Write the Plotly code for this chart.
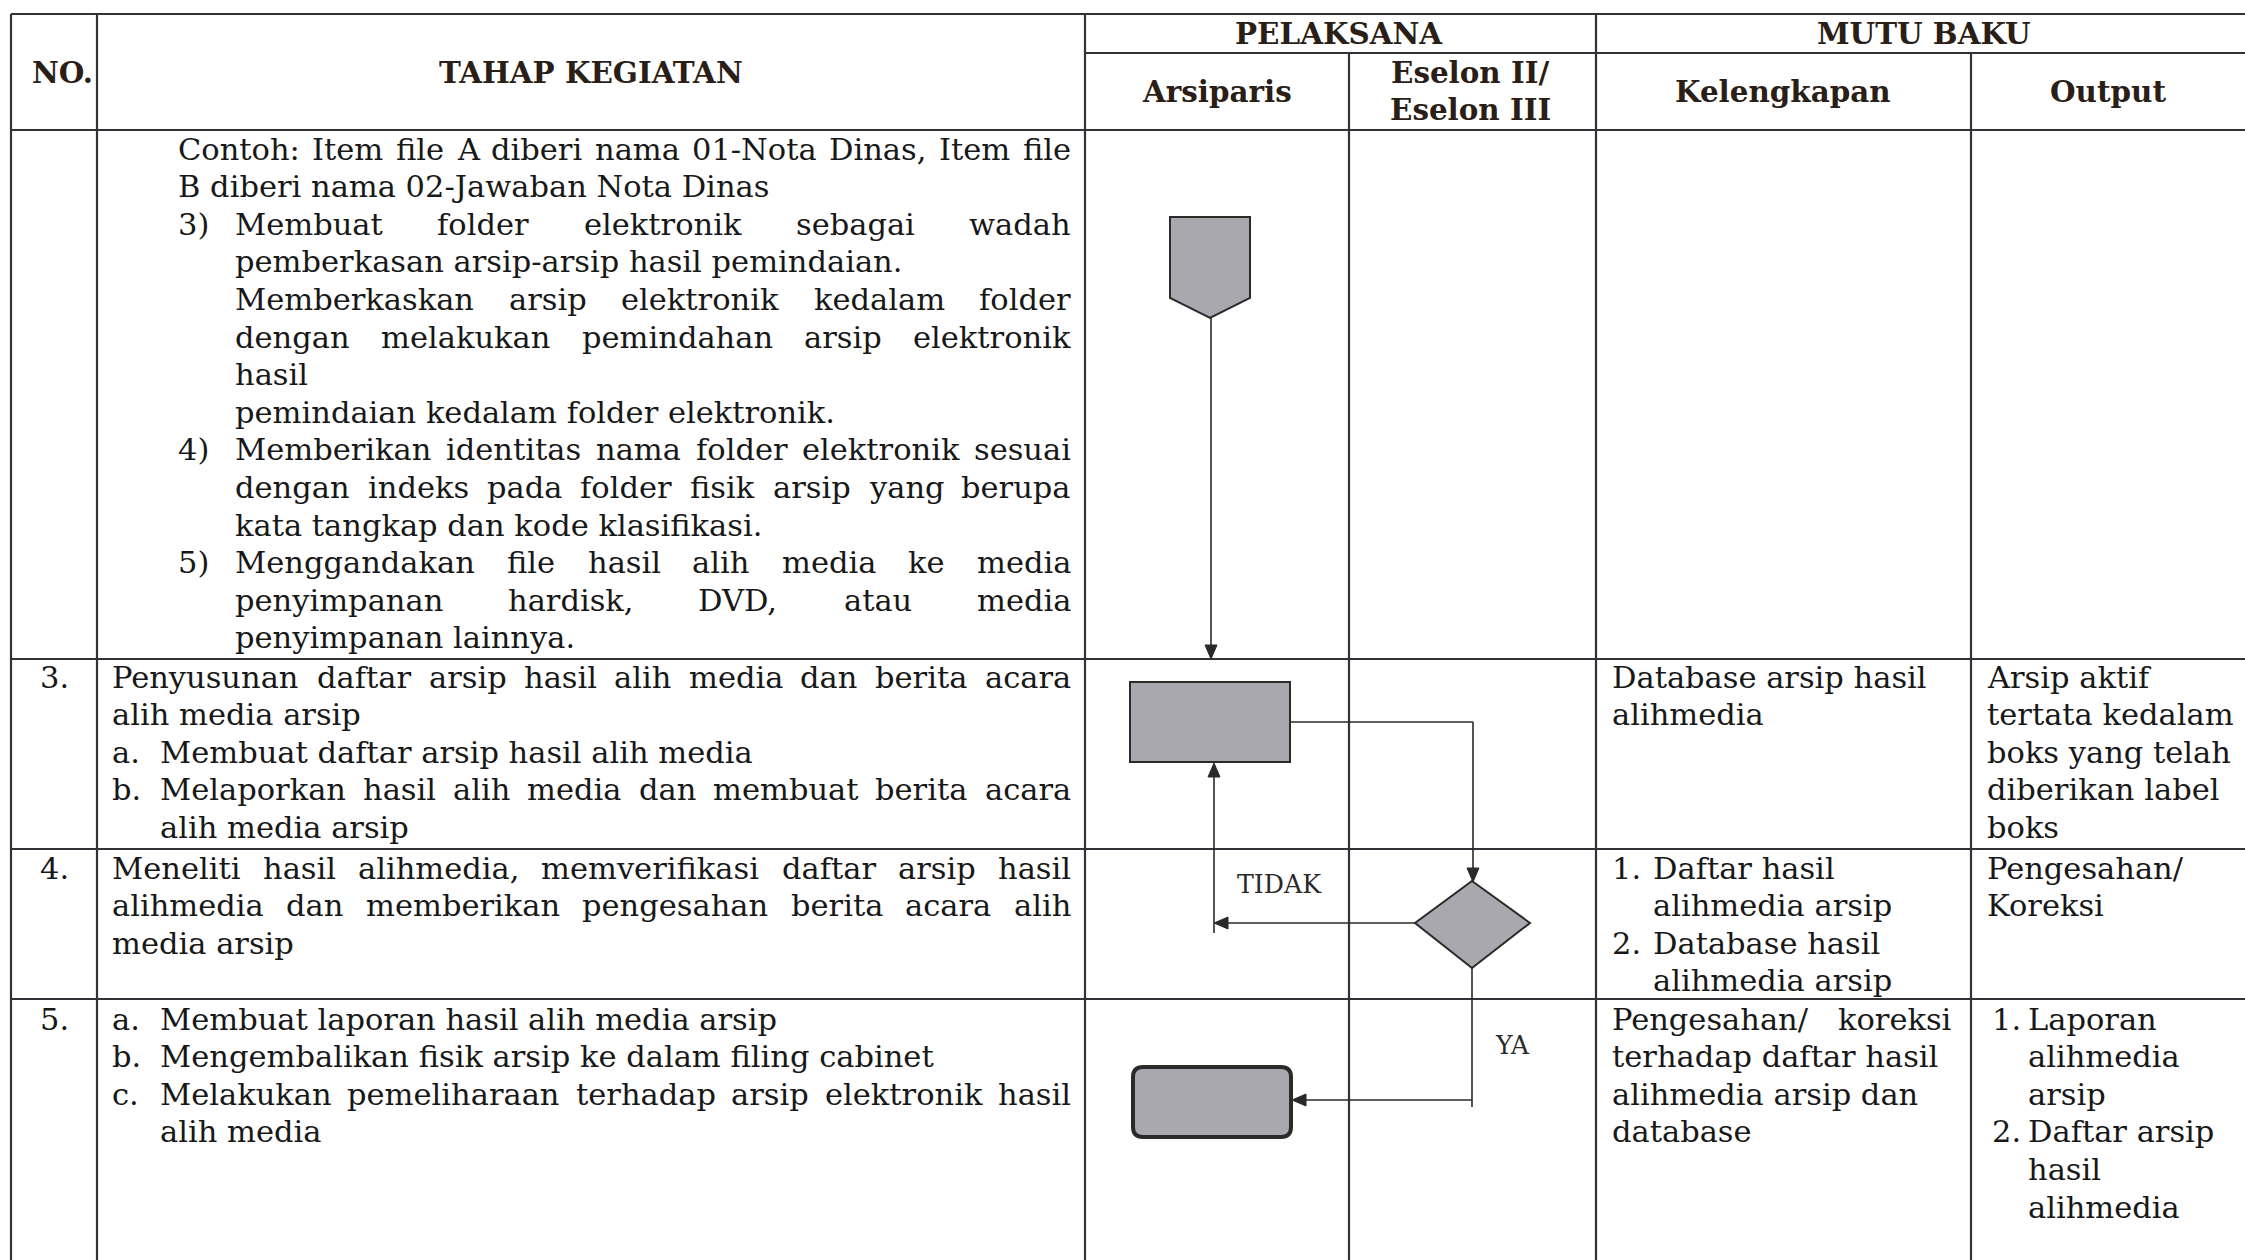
import glob
import struct
import plotly.graph_objects as go

# ---------------------------------------------------------------- data (text content)
HEAD_TOP = ["NO.", "TAHAP KEGIATAN", "PELAKSANA", "MUTU BAKU"]
HEAD_SUB = ["Arsiparis", "Eselon II/", "Eselon III", "Kelengkapan", "Output"]
ROW_NUMBERS = ["3.", "4.", "5."]

CONT_MARKERS = ["", "", "3)", "", "", "", "", "", "4)", "", "", "5)", "", ""]
CONT_LINES = [
    "Contoh: Item file A diberi nama 01-Nota Dinas, Item file",
    "B diberi nama 02-Jawaban Nota Dinas",
    "Membuat folder elektronik sebagai wadah",
    "pemberkasan arsip-arsip hasil pemindaian.",
    "Memberkaskan arsip elektronik kedalam folder",
    "dengan melakukan pemindahan arsip elektronik",
    "hasil",
    "pemindaian kedalam folder elektronik.",
    "Memberikan identitas nama folder elektronik sesuai",
    "dengan indeks pada folder fisik arsip yang berupa",
    "kata tangkap dan kode klasifikasi.",
    "Menggandakan file hasil alih media ke media",
    "penyimpanan hardisk, DVD, atau media",
    "penyimpanan lainnya.",
]

ROW3_MARKERS = ["", "", "a.", "b.", ""]
ROW3_LINES = [
    "Penyusunan daftar arsip hasil alih media dan berita acara",
    "alih media arsip",
    "Membuat daftar arsip hasil alih media",
    "Melaporkan hasil alih media dan membuat berita acara",
    "alih media arsip",
]
ROW4_MARKERS = ["", "", ""]
ROW4_LINES = [
    "Meneliti hasil alihmedia, memverifikasi daftar arsip hasil",
    "alihmedia dan memberikan pengesahan berita acara alih",
    "media arsip",
]
ROW5_MARKERS = ["a.", "b.", "c.", ""]
ROW5_LINES = [
    "Membuat laporan hasil alih media arsip",
    "Mengembalikan fisik arsip ke dalam filing cabinet",
    "Melakukan pemeliharaan terhadap arsip elektronik hasil",
    "alih media",
]

KEL3_MARKERS = ["", ""]
KEL3_LINES = ["Database arsip hasil", "alihmedia"]
KEL4_MARKERS = ["1.", "", "2.", ""]
KEL4_LINES = ["Daftar hasil", "alihmedia arsip", "Database hasil", "alihmedia arsip"]
KEL5_MARKERS = ["", "", "", ""]
KEL5_LINES = ["Pengesahan/ koreksi", "terhadap daftar hasil", "alihmedia arsip dan", "database"]

OUT3_MARKERS = ["", "", "", "", ""]
OUT3_LINES = ["Arsip aktif", "tertata kedalam", "boks yang telah", "diberikan label", "boks"]
OUT4_MARKERS = ["", ""]
OUT4_LINES = ["Pengesahan/", "Koreksi"]
OUT5_MARKERS = ["1.", "", "", "2.", "", ""]
OUT5_LINES = ["Laporan", "alihmedia", "arsip", "Daftar arsip", "hasil", "alihmedia"]

FLOW_LABELS = ["TIDAK", "YA"]

# ---------------------------------------------------------------- layout (positions / styles)
W, H = 2245, 1260
XL, XNO, XARS, XESL, XKEL, XOUT = 11, 97, 1085, 1349, 1596, 1971
YTOP, YSUB, YHDR, YR3, YR4, YR5 = 14, 53, 130, 659, 849, 999
PITCH = 37.6

BODY_FONT = "DejaVu Serif"
TEXT_COL = "#181818"
HEAD_COL = "#2a1e16"
LINE_COL = "#303238"
FLOW_COL = "#2a2a2a"
FILL_COL = "#a9a8ae"

CONT_JUST = {0, 2, 4, 5, 8, 9, 11, 12}
CONT_LEVEL = [0, 0] + [1] * 12
ROW3_JUST, ROW3_LEVEL = {0, 3}, [0, 0, 1, 1, 1]
ROW4_JUST, ROW4_LEVEL = {0, 1}, [0, 0, 0]
ROW5_JUST, ROW5_LEVEL = {2}, [1, 1, 1, 1]
KEL4_LEVEL = [1, 1, 1, 1]
KEL5_JUST = {0}
OUT5_LEVEL = [1] * 6


# ---------------------------------------------------------------- font metrics from TTF
def load_metrics(patterns):
    for pat in patterns:
        for path in glob.glob(pat, recursive=True):
            try:
                data = open(path, "rb").read()
                num = struct.unpack(">H", data[4:6])[0]
                tables = {}
                for i in range(num):
                    tag, _, off, ln = struct.unpack(">4sIII", data[12 + 16 * i:28 + 16 * i])
                    tables[tag.decode("latin1")] = off
                upem = struct.unpack(">H", data[tables["head"] + 18:tables["head"] + 20])[0]
                nhm = struct.unpack(">H", data[tables["hhea"] + 34:tables["hhea"] + 36])[0]
                ho = tables["hmtx"]
                adv = [struct.unpack(">H", data[ho + 4 * i:ho + 4 * i + 2])[0] for i in range(nhm)]
                co = tables["cmap"]
                nsub = struct.unpack(">H", data[co + 2:co + 4])[0]
                sub = None
                for i in range(nsub):
                    pid, eid, so = struct.unpack(">HHI", data[co + 4 + 8 * i:co + 12 + 8 * i])
                    fmt = struct.unpack(">H", data[co + so:co + so + 2])[0]
                    if fmt == 4 and ((pid == 3 and eid == 1) or pid == 0):
                        sub = co + so
                        break
                if sub is None:
                    continue
                segx2 = struct.unpack(">H", data[sub + 6:sub + 8])[0]
                seg = segx2 // 2
                ends = struct.unpack(">%dH" % seg, data[sub + 14:sub + 14 + segx2])
                starts = struct.unpack(">%dH" % seg, data[sub + 16 + segx2:sub + 16 + 2 * segx2])
                deltas = struct.unpack(">%dh" % seg, data[sub + 16 + 2 * segx2:sub + 16 + 3 * segx2])
                rpos = sub + 16 + 3 * segx2
                roffs = struct.unpack(">%dH" % seg, data[rpos:rpos + segx2])

                def gid(c):
                    for i in range(seg):
                        if ends[i] >= c:
                            if starts[i] > c:
                                return 0
                            if roffs[i] == 0:
                                return (c + deltas[i]) & 0xFFFF
                            addr = rpos + 2 * i + roffs[i] + 2 * (c - starts[i])
                            g = struct.unpack(">H", data[addr:addr + 2])[0]
                            return (g + deltas[i]) & 0xFFFF if g else 0
                    return 0

                cache = {}

                def width(s):
                    tot = 0.0
                    for ch in s:
                        if ch not in cache:
                            g = gid(ord(ch))
                            cache[ch] = (adv[g] if g < nhm else adv[-1]) / upem
                        tot += cache[ch]
                    return tot
                return width
            except Exception:
                continue
    return lambda s: 0.6 * len(s)


wreg = load_metrics(["/usr/share/fonts/**/DejaVuSerif.ttf", "/usr/**/DejaVuSerif.ttf"])
wbold = load_metrics(["/usr/share/fonts/**/DejaVuSerif-Bold.ttf", "/usr/**/DejaVuSerif-Bold.ttf"])

# calibrate sizes to widths measured on the reference
calib = [("Database arsip hasil", 319), ("Membuat daftar arsip hasil alih media", 600),
         ("pemberkasan arsip-arsip hasil pemindaian.", 681), ("terhadap daftar hasil", 306),
         ("tertata kedalam", 243)]
BODY_SIZE = sum(t for _, t in calib) / sum(wreg(s) for s, _ in calib)
hcal = [("TAHAP KEGIATAN", 304), ("Kelengkapan", 212), ("PELAKSANA", 202)]
HEAD_SIZE = 1.02 * sum(t for _, t in hcal) / sum(wbold(s) for s, _ in hcal)
LABEL_SIZE = 84 / wreg("TIDAK")

# ---------------------------------------------------------------- figure
fig = go.Figure()
shapes = []
annots = []


def text(x, y, s, size, color=TEXT_COL, xanchor="left", bold=False):
    annots.append(dict(x=x, y=y, xref="x", yref="y", text=("<b>%s</b>" % s) if bold else s,
                       showarrow=False, xanchor=xanchor, yanchor="middle",
                       borderpad=0, borderwidth=0,
                       font=dict(family=BODY_FONT, size=size, color=color)))


def block(markers, lines, x_mark, x_levels, x_right, y0, just=(), levels=None):
    for i, (m, s) in enumerate(zip(markers, lines)):
        y = y0 + i * PITCH
        lvl = levels[i] if levels else 0
        x0 = x_levels[lvl]
        if m:
            text(x_mark, y, m, BODY_SIZE)
        words = s.split()
        if i in just and len(words) > 1:
            ws = [wreg(w) * BODY_SIZE for w in words]
            gap = (x_right - x0 - sum(ws)) / (len(words) - 1)
            x = x0
            for k, (w, wd) in enumerate(zip(words, ws)):
                if k == len(words) - 1:
                    text(x_right, y, w, BODY_SIZE, xanchor="right")
                else:
                    text(x, y, w, BODY_SIZE)
                x += wd + gap
        else:
            text(x0, y, s, BODY_SIZE)


def line(x0, y0, x1, y1, color=LINE_COL, width=2.2):
    shapes.append(dict(type="line", xref="x", yref="y", x0=x0, y0=y0, x1=x1, y1=y1,
                       line=dict(color=color, width=width)))


def path(d, fill, color=FLOW_COL, width=2):
    shapes.append(dict(type="path", xref="x", yref="y", path=d, fillcolor=fill,
                       line=dict(color=color, width=width)))


def head(x, y, direction, L=14, hw=6):
    if direction == "down":
        d = f"M{x},{y} L{x - hw},{y - L} L{x + hw},{y - L} Z"
    elif direction == "up":
        d = f"M{x},{y} L{x - hw},{y + L} L{x + hw},{y + L} Z"
    elif direction == "left":
        d = f"M{x},{y} L{x + L},{y - hw} L{x + L},{y + hw} Z"
    else:
        d = f"M{x},{y} L{x - L},{y - hw} L{x - L},{y + hw} Z"
    path(d, FLOW_COL, width=1)


# table grid
line(XL, YTOP, W, YTOP)
line(XARS, YSUB, W, YSUB)
for yy in (YHDR, YR3, YR4, YR5):
    line(XL, yy, W, yy)
for xx in (XL, XNO, XARS, XKEL):
    line(xx, YTOP, xx, H)
for xx in (XESL, XOUT):
    line(xx, YSUB, xx, H)

# headers
text(62, 72, HEAD_TOP[0], HEAD_SIZE, HEAD_COL, "center", True)
text(591, 72, HEAD_TOP[1], HEAD_SIZE, HEAD_COL, "center", True)
text(1339, 33, HEAD_TOP[2], HEAD_SIZE, HEAD_COL, "center", True)
text(1924, 33, HEAD_TOP[3], HEAD_SIZE, HEAD_COL, "center", True)
text(1217, 91, HEAD_SUB[0], HEAD_SIZE, HEAD_COL, "center", True)
text(1470, 72, HEAD_SUB[1], HEAD_SIZE, HEAD_COL, "center", True)
text(1470, 109, HEAD_SUB[2], HEAD_SIZE, HEAD_COL, "center", True)
text(1783, 91, HEAD_SUB[3], HEAD_SIZE, HEAD_COL, "center", True)
text(2108, 91, HEAD_SUB[4], HEAD_SIZE, HEAD_COL, "center", True)

# TAHAP KEGIATAN column
XR_T = 1071
block(CONT_MARKERS, CONT_LINES, 178, [178, 235], XR_T, 149, CONT_JUST, CONT_LEVEL)
block(ROW3_MARKERS, ROW3_LINES, 112, [112, 160], XR_T, 677, ROW3_JUST, ROW3_LEVEL)
block(ROW4_MARKERS, ROW4_LINES, 112, [112, 160], XR_T, 868, ROW4_JUST, ROW4_LEVEL)
block(ROW5_MARKERS, ROW5_LINES, 112, [112, 160], XR_T, 1019, ROW5_JUST, ROW5_LEVEL)
for num, yy in zip(ROW_NUMBERS, (677, 868, 1019)):
    text(40, yy, num, BODY_SIZE)

# Kelengkapan column
block(KEL3_MARKERS, KEL3_LINES, 1612, [1612], 1952, 677)
block(KEL4_MARKERS, KEL4_LINES, 1612, [1612, 1653], 1952, 868, (), KEL4_LEVEL)
block(KEL5_MARKERS, KEL5_LINES, 1612, [1612], 1952, 1019, KEL5_JUST)

# Output column
block(OUT3_MARKERS, OUT3_LINES, 1987, [1987], 2240, 677)
block(OUT4_MARKERS, OUT4_LINES, 1987, [1987], 2240, 868)
block(OUT5_MARKERS, OUT5_LINES, 1992, [1987, 2028], 2240, 1019, (), OUT5_LEVEL)

# flowchart
path("M1170,217 L1250,217 L1250,298 L1210,318 L1170,298 Z", FILL_COL)
line(1211, 318, 1211, 647, FLOW_COL, 1.6)
head(1211, 659, "down")

path("M1130,682 L1290,682 L1290,762 L1130,762 Z", FILL_COL)
line(1290, 722, 1473, 722, FLOW_COL, 1.6)
line(1473, 722, 1473, 870, FLOW_COL, 1.6)
head(1473, 882, "down")

path("M1472,881 L1530,923 L1472,968 L1415,923 Z", FILL_COL)
line(1415, 923, 1226, 923, FLOW_COL, 1.6)
head(1214, 923, "left")
line(1214, 933, 1214, 775, FLOW_COL, 1.6)
head(1214, 763, "up")
text(1279, 884, FLOW_LABELS[0], LABEL_SIZE, FLOW_COL, "center")

line(1472, 968, 1472, 1107, FLOW_COL, 1.6)
line(1472, 1100, 1304, 1100, FLOW_COL, 1.6)
head(1292, 1100, "left")
text(1512, 1045, FLOW_LABELS[1], LABEL_SIZE, FLOW_COL, "center")

r = 10
x0, x1, y0, y1 = 1133, 1291, 1067, 1137
path(f"M{x0 + r},{y0} L{x1 - r},{y0} Q{x1},{y0} {x1},{y0 + r} L{x1},{y1 - r} Q{x1},{y1} {x1 - r},{y1} "
     f"L{x0 + r},{y1} Q{x0},{y1} {x0},{y1 - r} L{x0},{y0 + r} Q{x0},{y0} {x0 + r},{y0} Z", FILL_COL, width=4)

fig.update_layout(
    width=W, height=H, margin=dict(l=0, r=0, t=0, b=0),
    paper_bgcolor="white", plot_bgcolor="white", showlegend=False,
    xaxis=dict(range=[0, W], visible=False, fixedrange=True),
    yaxis=dict(range=[H, 0], visible=False, fixedrange=True),
    shapes=shapes, annotations=annots,
)
fig.write_html("out.html", config={"displayModeBar": False},
               post_script="document.body.style.margin='0';document.body.style.overflow='hidden';")
